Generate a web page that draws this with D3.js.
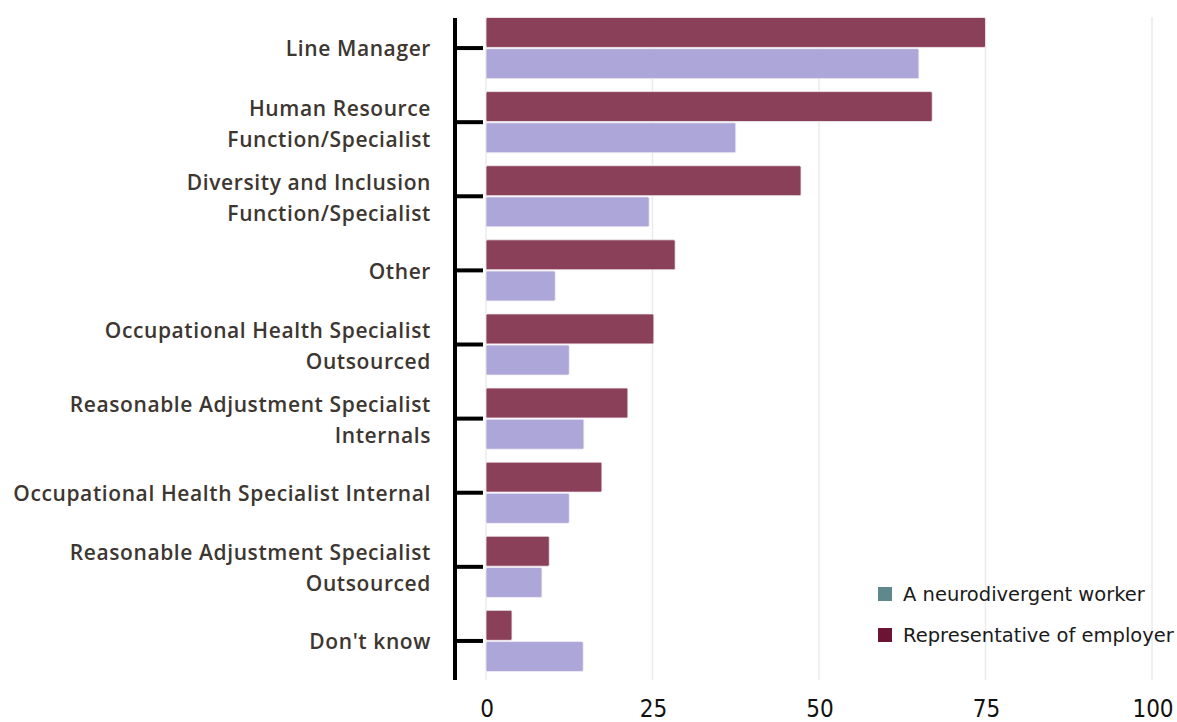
<!DOCTYPE html>
<html><head><meta charset="utf-8">
<script src="https://cdn.jsdelivr.net/npm/d3@7"></script>
<style>body{margin:0;background:#fff}svg{display:block}</style>
</head><body>
<svg id="c" width="1177" height="722"></svg>
<script>
const categories = [
  ["Line Manager"],
  ["Human Resource", "Function/Specialist"],
  ["Diversity and Inclusion", "Function/Specialist"],
  ["Other"],
  ["Occupational Health Specialist", "Outsourced"],
  ["Reasonable Adjustment Specialist", "Internals"],
  ["Occupational Health Specialist Internal"],
  ["Reasonable Adjustment Specialist", "Outsourced"],
  ["Don't know"]
];
const employerValues = [75, 67, 47.3, 28.4, 25.2, 21.3, 17.4, 9.5, 3.9];
const workerValues   = [65, 37.5, 24.5, 10.4, 12.5, 14.7, 12.5, 8.4, 14.6];
const xTicks = [0, 25, 50, 75, 100];
const seriesNames = ["Representative of employer", "A neurodivergent worker"];
const legendNames = ["A neurodivergent worker", "Representative of employer"];

const barColors = {"Representative of employer": "#8b4059", "A neurodivergent worker": "#ada6d9"};
const legendColors = {"A neurodivergent worker": "#5f888c", "Representative of employer": "#6b1434"};

const svg = d3.select("#c");
const keys = categories.map((c, i) => i);
const x = d3.scaleLinear().domain([0, 100]).range([486, 1152]);
const y = d3.scaleBand().domain(keys).range([11, 678]).paddingInner(0.175).paddingOuter(0.0875);
const ySub = d3.scaleBand().domain(seriesNames).range([0, y.bandwidth()]).paddingInner(0.04);

// gridlines
svg.append("g").selectAll("line").data(xTicks).join("line")
  .attr("x1", d => x(d)).attr("x2", d => x(d))
  .attr("y1", 17).attr("y2", 680)
  .attr("stroke", "#ebebeb").attr("stroke-width", 1.5);

// bars
const rows = keys.map(i => ({i, vals: [
  {s: seriesNames[0], v: employerValues[i]},
  {s: seriesNames[1], v: workerValues[i]}
]}));
const g = svg.append("g").selectAll("g").data(rows).join("g")
  .attr("transform", d => `translate(0,${y(d.i)})`);
g.selectAll("rect").data(d => d.vals).join("rect")
  .attr("x", x(0)).attr("y", d => ySub(d.s))
  .attr("width", d => x(d.v) - x(0)).attr("height", ySub.bandwidth())
  .attr("rx", 1.5)
  .attr("fill", d => barColors[d.s])
  .attr("stroke", "#f2eef4").attr("stroke-width", 0.8);

// y axis line & ticks
svg.append("line").attr("x1", 455).attr("x2", 455).attr("y1", 18).attr("y2", 680)
  .attr("stroke", "#000").attr("stroke-width", 4);
svg.append("g").selectAll("line").data(keys).join("line")
  .attr("x1", 455).attr("x2", 483)
  .attr("y1", d => y(d) + y.bandwidth() / 2).attr("y2", d => y(d) + y.bandwidth() / 2)
  .attr("stroke", "#000").attr("stroke-width", 4);

// category labels
const lab = svg.append("g").selectAll("text").data(keys).join("text")
  .attr("text-anchor", "end")
  .attr("font-family", "'Open Sans', sans-serif").attr("font-weight", 600)
  .attr("font-size", 21).attr("letter-spacing", "0.6px").attr("fill", "#3d3631")
  .attr("transform", d => {
    const n = categories[d].length;
    const cy = y(d) + y.bandwidth() / 2 + (n > 1 ? 1.5 : 1);
    return `translate(431,${cy})`;
  });
lab.selectAll("tspan").data(d => categories[d].map((t, j, a) => ({t, j, n: a.length}))).join("tspan")
  .attr("x", 0)
  .attr("y", d => (d.j - (d.n - 1) / 2) * 31)
  .attr("dy", "0.35em")
  .text(d => d.t);

// x tick labels
svg.append("g").selectAll("text").data(xTicks).join("text")
  .attr("x", d => x(d) + 1).attr("y", 717)
  .attr("text-anchor", "middle")
  .attr("font-family", "'DejaVu Sans Condensed', 'DejaVu Sans', sans-serif")
  .attr("font-size", 24).attr("fill", "#111")
  .text(d => d);

// legend
const lg = svg.append("g").selectAll("g").data(legendNames).join("g")
  .attr("transform", (d, i) => `translate(878,${587 + i * 41})`);
lg.append("rect").attr("width", 14).attr("height", 14).attr("fill", d => legendColors[d]);
lg.append("text").attr("x", 25).attr("y", 7).attr("dy", "0.35em")
  .attr("font-family", "'DejaVu Sans', sans-serif").attr("font-size", 19.5).attr("fill", "#1a1a1a")
  .text(d => d);
</script>
</body></html>
